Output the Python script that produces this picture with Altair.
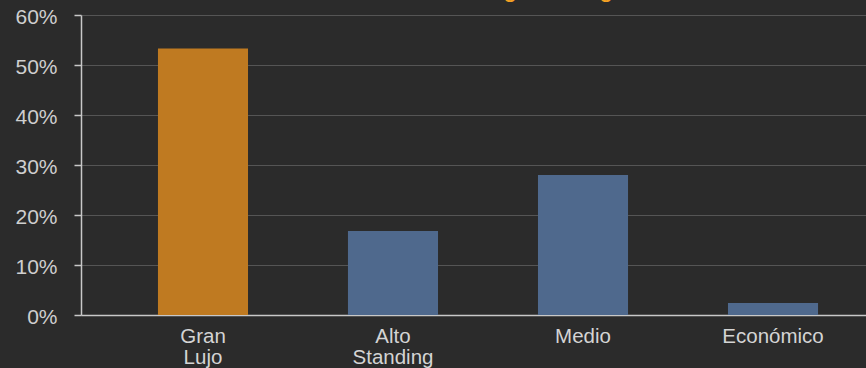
import altair as alt
import pandas as pd

categories = ["Gran Lujo", "Alto Standing", "Medio", "Económico"]
shares = [53.3, 16.8, 28.0, 2.4]
bar_colors = ["#BF7A21", "#4F698D", "#4F698D", "#4F698D"]
y_ticks = [0, 10, 20, 30, 40, 50, 60]
title_text = ["Demanda según categoría"]

df = pd.DataFrame({"cat": categories, "share": shares, "color": bar_colors})
tdf = pd.DataFrame({"t": title_text})

FONT = "Liberation Sans"

bars = alt.Chart(df).mark_bar().encode(
    x=alt.X(
        "cat:N",
        sort=categories,
        title=None,
        scale=alt.Scale(range=[0, 814], paddingInner=0.526, paddingOuter=0.405),
        axis=alt.Axis(
            ticks=False,
            grid=False,
            labelAngle=0,
            labelFontSize=20.5,
            labelColor="#d4d4d4",
            labelFont=FONT,
            labelPadding=11,
            labelLineHeight=21,
            labelExpr="split(datum.label, ' ')",
            domainColor="#c8c8c8",
            domainWidth=1.5,
        ),
    ),
    y=alt.Y(
        "share:Q",
        title=None,
        scale=alt.Scale(domain=[0, 60], nice=False),
        axis=alt.Axis(
            values=y_ticks,
            labelExpr="datum.value + '%'",
            labelFontSize=21,
            labelColor="#cfcfcf",
            labelFont=FONT,
            labelPadding=17,
            labelOffset=2,
            tickSize=7,
            tickColor="#c8c8c8",
            tickWidth=1.5,
            domainColor="#c8c8c8",
            domainWidth=1.5,
            gridColor="#555555",
            gridWidth=1,
        ),
    ),
    color=alt.Color("color:N", scale=None, legend=None),
)

title = alt.Chart(tdf).mark_text(
    align="left", baseline="alphabetic", fontSize=25, font=FONT, color="#F2A024"
).encode(
    x=alt.value(280.6),
    y=alt.value(-17.75),
    text="t:N",
)

chart = alt.layer(bars, title).properties(
    width=785,
    height=300,
    background="#2B2B2B",
    padding={"left": 81, "top": 15, "right": 0, "bottom": 53},
    autosize=alt.AutoSizeParams(type="none"),
).configure_view(strokeWidth=0)

chart.save("out.html", embed_options={"renderer": "svg", "actions": False})
